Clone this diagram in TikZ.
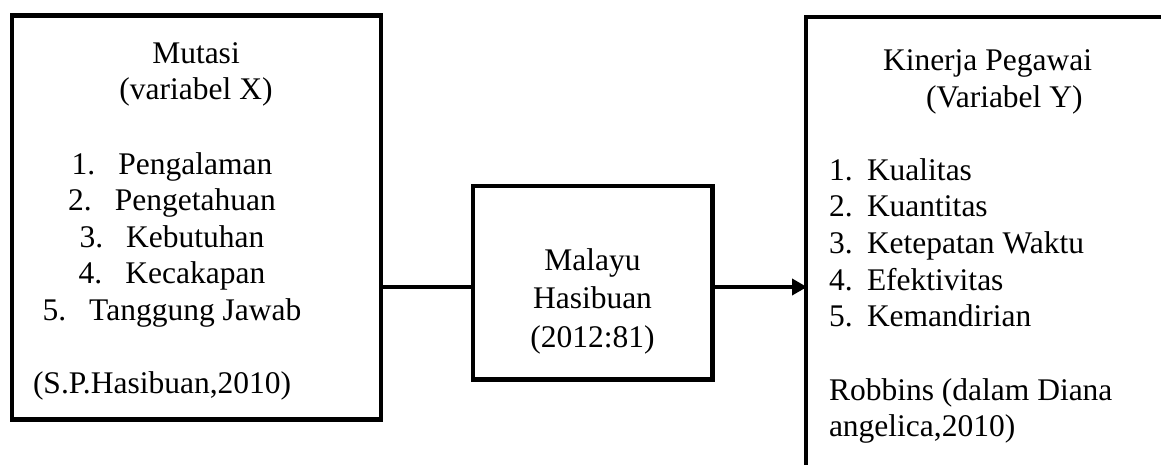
\documentclass[tikz,border=0pt]{standalone}
\usepackage{fontspec}
\setmainfont{Liberation Serif}
\usetikzlibrary{arrows.meta}
\tikzset{
  boxnode/.style={draw=black, line width=4.5pt, rectangle, inner sep=0pt, outer sep=0pt},
  txt/.style={inner sep=0pt, outer sep=0pt, font=\fontsize{31.5}{36.7}\selectfont},
  conn/.style={line width=4.5pt},
}
\begin{document}
\begin{tikzpicture}[x=1pt,y=-1pt]
\useasboundingbox (0,0) rectangle (1161,464);
\begin{scope}
\clip (0,0) rectangle (1161,464);
% boxes
\node[boxnode, minimum width=369pt, minimum height=404pt] (lb) at (196.5,217.5) {};
\node[boxnode, minimum width=239.5pt, minimum height=193.5pt] (mb) at (592.75,282.75) {};
\node[boxnode, minimum width=380pt, minimum height=480pt] (rb) at (996,257) {};
\end{scope}
% left box text
\node[txt, anchor=base] (l1) at (196,63) {Mutasi};
\node[txt, anchor=base] (l2) at (196,99.5) {(variabel X)};
\node[txt, anchor=base] (l3) at (172,174) {1.\hspace{23pt}Pengalaman};
\node[txt, anchor=base] (l4) at (172,210.5) {2.\hspace{23pt}Pengetahuan};
\node[txt, anchor=base] (l5) at (172,247) {3.\hspace{23pt}Kebutuhan};
\node[txt, anchor=base] (l6) at (172,283.5) {4.\hspace{23pt}Kecakapan};
\node[txt, anchor=base] (l7) at (172,320) {5.\hspace{23pt}Tanggung Jawab};
\node[txt, anchor=base west] (l8) at (33,393) {(S.P.Hasibuan,2010)};
% middle box text
\node[txt, anchor=base] (m1) at (592.5,270) {Malayu};
\node[txt, anchor=base] (m2) at (592.5,308.5) {Hasibuan};
\node[txt, anchor=base] (m3) at (592.5,347) {(2012:81)};
% right box text
\node[txt, anchor=base west] (r1) at (883,70) {Kinerja Pegawai};
\node[txt, anchor=base west] (r2) at (926,107) {(Variabel Y)};
\node[txt, anchor=base west] (r3) at (829,180) {\makebox[38pt][l]{1.}Kualitas};
\node[txt, anchor=base west] (r4) at (829,216.7) {\makebox[38pt][l]{2.}Kuantitas};
\node[txt, anchor=base west] (r5) at (829,253.4) {\makebox[38pt][l]{3.}Ketepatan Waktu};
\node[txt, anchor=base west] (r6) at (829,290.1) {\makebox[38pt][l]{4.}Efektivitas};
\node[txt, anchor=base west] (r7) at (829,326.8) {\makebox[38pt][l]{5.}Kemandirian};
\node[txt, anchor=base west] (r8) at (829,400) {Robbins (dalam Diana};
\node[txt, anchor=base west] (r9) at (829,436.7) {angelica,2010)};
% connectors
\coordinate (cy) at (0,287);
\draw[conn] (lb.east |- cy) -- (mb.west |- cy);
\draw[conn, -{Triangle[length=15pt,width=16pt]}, shorten >=-1pt] (mb.east |- cy) -- (rb.west |- cy);
\end{tikzpicture}
\end{document}
